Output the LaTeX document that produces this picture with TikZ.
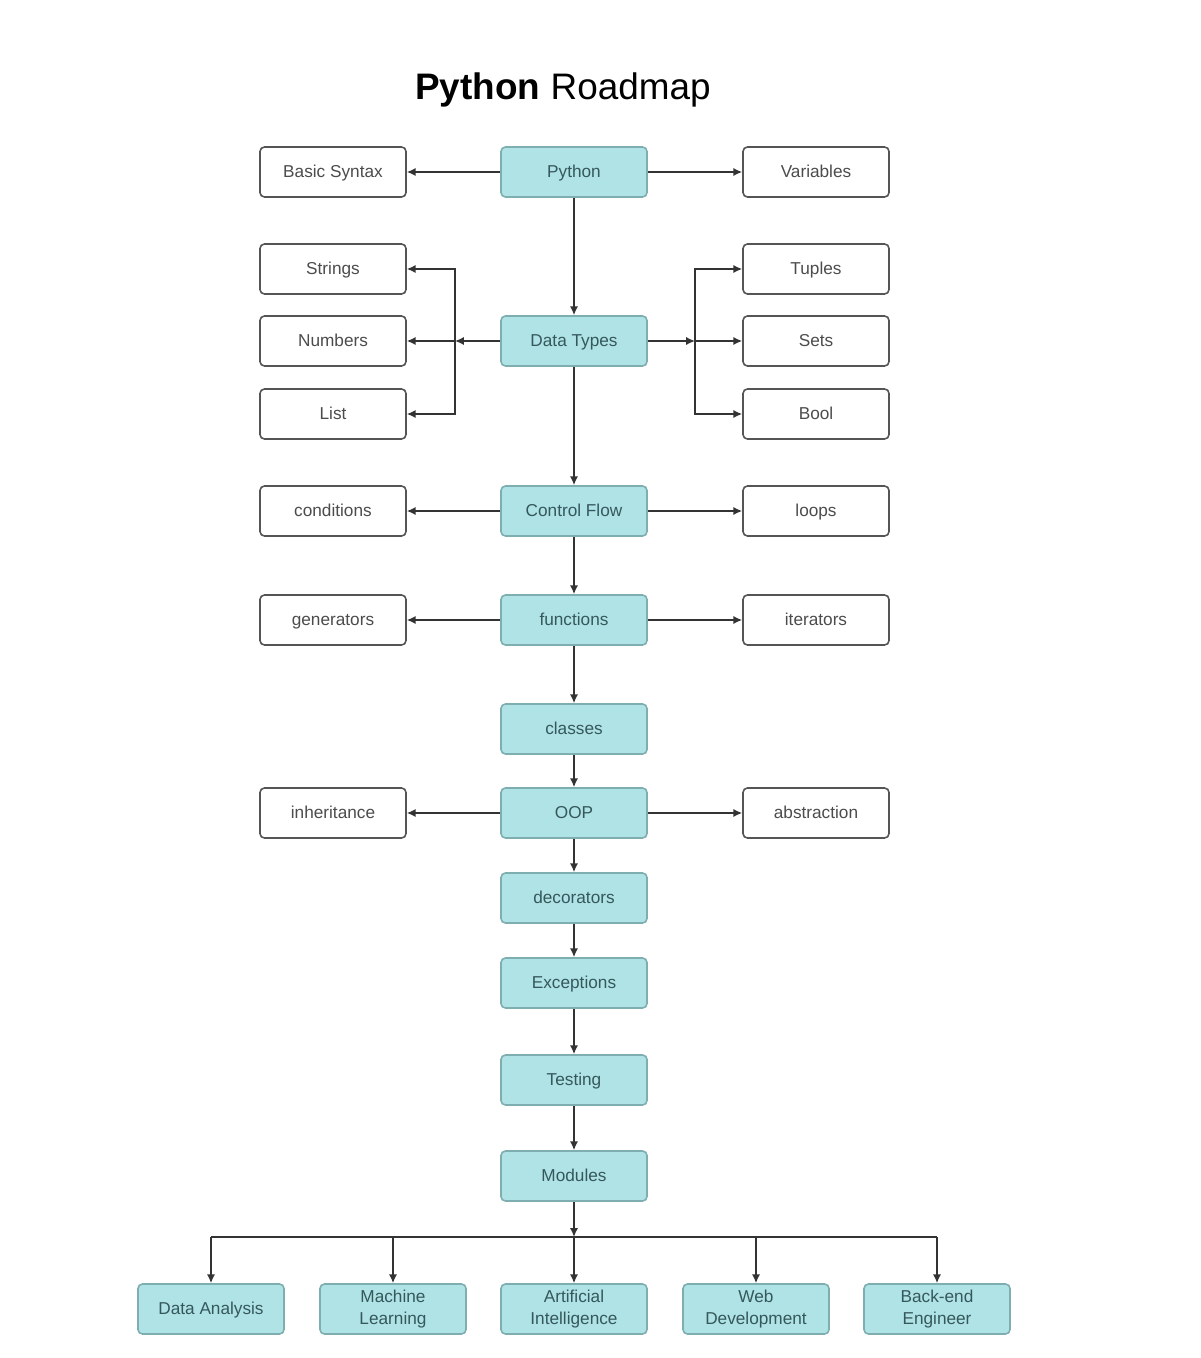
\documentclass[tikz,border=0pt]{standalone}
\usepackage{fontspec}
\setmainfont{Liberation Sans}
\usetikzlibrary{arrows.meta,positioning}
\definecolor{tealfill}{HTML}{B0E3E6}
\definecolor{tealline}{HTML}{7FAEB1}
\definecolor{tealtext}{HTML}{35585B}
\definecolor{boxline}{HTML}{555555}
\definecolor{arrowline}{HTML}{333333}

\begin{document}
\begin{tikzpicture}[x=0.02cm,y=-0.02cm,>={Latex[length=5pt,width=4.6pt]},
  every node/.style={font=\fontsize{9.8}{12.5}\selectfont},
  card/.style={line width=0.9pt,rounded corners=2.5pt,
    minimum width=2.92cm,minimum height=1cm,inner sep=0pt,align=center},
  topic/.style={card,draw=tealline,fill=tealfill,text=tealtext,text height=1.6ex,text depth=.45ex},
  career/.style={card,draw=tealline,fill=tealfill,text=tealtext},
  sub/.style={card,draw=boxline,fill=white,text=black!70,text height=1.6ex,text depth=.45ex},
  link/.style={->,draw=arrowline,line width=0.9pt}]
\useasboundingbox (0,0) rectangle (1200,1358);
\node (title) at (563,90) {\fontsize{21}{25}\selectfont\textbf{Python} Roadmap};

% main column
\node[topic] (python) at (574,172) {Python};
\node[topic] (dtypes) at (574,341) {Data Types};
\node[topic] (ctrl) at (574,511) {Control Flow};
\node[topic] (funcs) at (574,620) {functions};
\node[topic] (classes) at (574,729) {classes};
\node[topic] (oop) at (574,813) {OOP};
\node[topic] (decor) at (574,898) {decorators};
\node[topic] (excep) at (574,983) {Exceptions};
\node[topic] (testing) at (574,1080) {Testing};
\node[topic] (modules) at (574,1176) {Modules};

% side boxes
\node[sub] (basics) at (333,172) {Basic Syntax};
\node[sub] (vars) at (816,172) {Variables};
\node[sub] (strings) at (333,269) {Strings};
\node[sub] (numbers) at (333,341) {Numbers};
\node[sub] (list) at (333,414) {List};
\node[sub] (tuples) at (816,269) {Tuples};
\node[sub] (sets) at (816,341) {Sets};
\node[sub] (bool) at (816,414) {Bool};
\node[sub] (cond) at (333,511) {conditions};
\node[sub] (loops) at (816,511) {loops};
\node[sub] (gens) at (333,620) {generators};
\node[sub] (iters) at (816,620) {iterators};
\node[sub] (inherit) at (333,813) {inheritance};
\node[sub] (abstr) at (816,813) {abstraction};

% careers
\node[topic] (da) at (211,1309) {Data Analysis};
\node[career] (ml) at (393,1309) {Machine\\Learning};
\node[career] (ai) at (574,1309) {Artificial\\Intelligence};
\node[career] (web) at (756,1309) {Web\\Development};
\node[career] (backend) at (937,1309) {Back-end\\Engineer};

% main flow
\draw[link] (python) -- (dtypes);
\draw[link] (dtypes) -- (ctrl);
\draw[link] (ctrl) -- (funcs);
\draw[link] (funcs) -- (classes);
\draw[link] (classes) -- (oop);
\draw[link] (oop) -- (decor);
\draw[link] (decor) -- (excep);
\draw[link] (excep) -- (testing);
\draw[link] (testing) -- (modules);

% branches
\draw[link] (python) -- (basics);
\draw[link] (python) -- (vars);
\draw[link] (ctrl) -- (cond);
\draw[link] (ctrl) -- (loops);
\draw[link] (funcs) -- (gens);
\draw[link] (funcs) -- (iters);
\draw[link] (oop) -- (inherit);
\draw[link] (oop) -- (abstr);

\coordinate (jleft) at (455,341);
\coordinate (jright) at (695,341);
\draw[link] (dtypes) -- (jleft);
\draw[link] (jleft) |- (strings);
\draw[link] (jleft) -- (numbers);
\draw[link] (jleft) |- (list);
\draw[link] (dtypes) -- (jright);
\draw[link] (jright) |- (tuples);
\draw[link] (jright) -- (sets);
\draw[link] (jright) |- (bool);

% bus to careers
\coordinate (bus) at (574,1237);
\draw[link] (modules) -- (bus);
\draw[draw=arrowline,line width=0.9pt] (da |- bus) -- (backend |- bus);
\foreach \c in {da,ml,ai,web,backend}
  \draw[link] (\c |- bus) -- (\c);
\end{tikzpicture}
\end{document}
